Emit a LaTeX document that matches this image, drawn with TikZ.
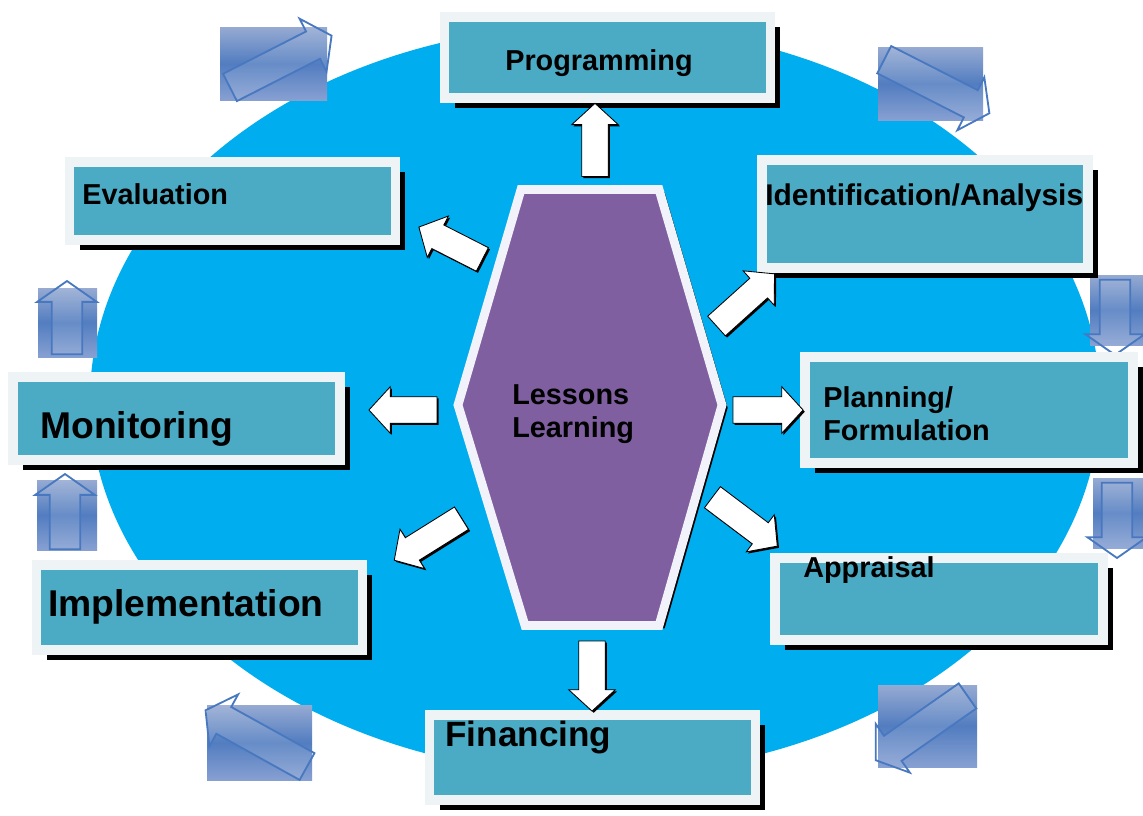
\documentclass[tikz,border=0pt]{standalone}
\usepackage{fontspec}
\setmainfont{Liberation Sans}
\usetikzlibrary{positioning, shapes.arrows, shadows}

\definecolor{skyblue}{RGB}{0,174,239}
\definecolor{boxteal}{RGB}{75,170,196}
\definecolor{boxframe}{RGB}{238,244,246}
\definecolor{hexpurple}{RGB}{127,95,160}
\definecolor{hexframe}{RGB}{242,242,250}
\definecolor{icontop}{RGB}{150,170,210}
\definecolor{iconmid}{RGB}{82,125,192}
\definecolor{iconbot}{RGB}{135,160,210}
\definecolor{iconline}{RGB}{72,120,192}

\tikzset{
  stage/.style={draw=boxframe, line width=0.24cm, fill=boxteal, inner sep=0pt,
    drop shadow={shadow xshift=0.25cm, shadow yshift=-0.25cm, fill=black, opacity=1}},
  flow/.style={single arrow, draw=black, line width=0.6pt, fill=white,
    inner xsep=0pt, inner ysep=0.32cm, single arrow head extend=0.25cm,
    single arrow tip angle=95,
    drop shadow={shadow xshift=1.2pt, shadow yshift=-1.2pt, fill=black, opacity=1}},
  turn/.style={single arrow, draw=iconline, line width=1.3pt, fill=white, fill opacity=0.12,
    inner xsep=0pt, inner ysep=0.36cm, single arrow head extend=0.36cm,
    single arrow tip angle=110},
  iconbg/.style={top color=icontop, bottom color=iconbot, middle color=iconmid},
  txt/.style={font=\bfseries\fontsize{20.5}{24}\selectfont, inner sep=0pt,
    anchor=base west, align=left},
  bigtxt/.style={txt, font=\bfseries\fontsize{26.5}{30}\selectfont}
}

\begin{document}
\begin{tikzpicture}[x=0.025cm, y=-0.025cm]
  \fill[white] (0,0) rectangle (1143,815);
  \useasboundingbox (0,0) rectangle (1143,815);

  % blue background
  \fill[skyblue] (595,400) ellipse [x radius=505, y radius=375];

  % cycle icons
  \path[iconbg] (220,27) rectangle (327,100);
  \node[turn, minimum height=2.85cm, rotate=27] (T1) at (276,64) {};
  \path[iconbg] (878,47) rectangle (983,120);
  \node[turn, minimum height=2.95cm, rotate=-27] (T2) at (932,84) {};
  \path[iconbg] (1090,275) rectangle (1143,345);
  \node[turn, minimum height=1.88cm, rotate=270] (T3) at (1115,312) {};
  \path[iconbg] (1093,478) rectangle (1143,548);
  \node[turn, minimum height=1.88cm, rotate=270] (T4) at (1117,515) {};
  \path[iconbg] (878,685) rectangle (977,767);
  \node[turn, minimum height=2.8cm, rotate=215] (T5) at (926,725) {};
  \path[iconbg] (207,705) rectangle (312,780);
  \node[turn, minimum height=2.9cm, rotate=151] (T6) at (261,741) {};
  \path[iconbg] (37,480) rectangle (97,550);
  \node[turn, minimum height=1.88cm, rotate=90] (T7) at (65,517) {};
  \path[iconbg] (38,288) rectangle (97,357);
  \node[turn, minimum height=1.83cm, rotate=90] (T8) at (67,323) {};

  % stage boxes
  \node[stage, minimum width=8.14cm, minimum height=2.035cm] (P) at (607.5,57.5) {};
  \node[stage, minimum width=8.14cm, minimum height=1.96cm] (E) at (232.5,201) {};
  \node[stage, minimum width=8.16cm, minimum height=2.71cm] (IA) at (925,214) {};
  \node[stage, minimum width=8.185cm, minimum height=2.085cm] (M) at (176.5,418.5) {};
  \node[stage, minimum width=8.21cm, minimum height=2.66cm] (PF) at (969,410) {};
  \node[stage, minimum width=8.21cm, minimum height=2.06cm] (AP) at (939,599) {};
  \node[stage, minimum width=8.14cm, minimum height=2.135cm] (IM) at (199.5,607.5) {};
  \node[stage, minimum width=8.14cm, minimum height=2.135cm] (F) at (592.5,757.5) {};

  % hexagon in the middle
  \draw[draw=hexframe, line width=0.22cm, fill=hexpurple, line join=miter,
    drop shadow={shadow xshift=4pt, shadow yshift=-2pt, fill=black, opacity=1}]
    (521,189.5) -- (659,189.5) -- (722,405) -- (659,625.5)
    -- (525,625.5) -- (458,405) -- cycle;

  % white arrows out of the hexagon
  \node[flow, minimum height=1.83cm, rotate=90] (A1) at (595,146) {};
  \node[flow, minimum height=1.78cm, rotate=153] (A2) at (456,246) {};
  \node[flow, minimum height=1.95cm, rotate=42] (A3) at (741,304) {};
  \node[flow, minimum height=1.7cm, rotate=180] (A4) at (409,410) {};
  \node[flow, minimum height=1.75cm, rotate=0] (A5) at (762,410) {};
  \node[flow, minimum height=1.98cm, rotate=212] (A6) at (433,536) {};
  \node[flow, minimum height=2.03cm, rotate=-37] (A7) at (740,518) {};
  \node[flow, minimum height=1.75cm, rotate=270] (A8) at (592,670) {};

  % labels
  \node[txt] (Pt) at (505,70) {Programming};
  \node[txt] (Et) at (82,204) {Evaluation};
  \node[txt, font=\bfseries\fontsize{21.3}{24}\selectfont] (IAt) at (765,205) {Identification/Analysis};
  \node[bigtxt] (Mt) at (40,438) {Monitoring};
  \node[txt, anchor=north west] (PFt) at (823,386) {Planning/\\Formulation};
  \node[txt] (APt) at (803,577) {Appraisal};
  \node[bigtxt] (IMt) at (48,616) {Implementation};
  \node[bigtxt, font=\bfseries\fontsize{25}{30}\selectfont] (Ft) at (445,746) {Financing};
  \node[txt, anchor=north west] (Lt) at (512,384) {Lessons\\Learning};
\end{tikzpicture}
\end{document}
